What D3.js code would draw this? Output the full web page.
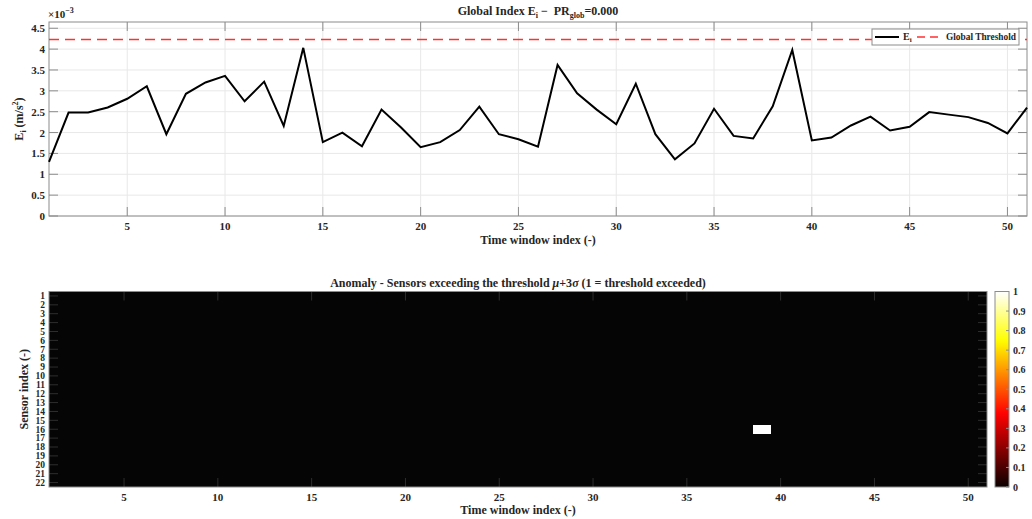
<!DOCTYPE html>
<html>
<head>
<meta charset="utf-8">
<script src="https://cdn.jsdelivr.net/npm/d3@7"></script>
<style>
  html, body { margin: 0; padding: 0; background: #fff; }
  svg { display: block; }
  text { font-family: "Liberation Serif", "Times New Roman", serif; font-weight: bold; fill: #262626; }
</style>
</head>
<body>
<svg id="chart" width="1032" height="519"></svg>
<script>
// Global energy index per time window (×10^-3 m/s^2)
const timeWindows = d3.range(1, 52);
const energyIndex = [
  1.30, 2.48, 2.48, 2.60, 2.81, 3.11, 1.96, 2.93, 3.20, 3.36,
  2.75, 3.22, 2.16, 4.03, 1.77, 2.00, 1.67, 2.55, 2.12, 1.65,
  1.77, 2.06, 2.62, 1.96, 1.84, 1.66, 3.62, 2.94, 2.55, 2.20,
  3.17, 1.96, 1.36, 1.74, 2.57, 1.92, 1.86, 2.63, 3.98, 1.81,
  1.88, 2.17, 2.38, 2.05, 2.14, 2.49, 2.43, 2.37, 2.23, 1.98,
  2.60
];
const globalThreshold = 4.23;
const yTicksTop = [0, 0.5, 1, 1.5, 2, 2.5, 3, 3.5, 4, 4.5];
const xTicks = [5, 10, 15, 20, 25, 30, 35, 40, 45, 50];

// Anomaly map: sensors above mu+3sigma (1 = exceeded)
const sensors = d3.range(1, 23);
const exceedances = [{ window: 39, sensor: 16 }];
const colorbarTicks = [0, 0.1, 0.2, 0.3, 0.4, 0.5, 0.6, 0.7, 0.8, 0.9, 1];

const svg = d3.select("#chart");
const axisGray = "#8c8c8c";
const gridGray = "#e8e8e8";

// ---------- Upper panel ----------
const upper = { left: 49, right: 1027, top: 22, bottom: 216 };
const x1 = d3.scaleLinear().domain([1, 51]).range([upper.left, upper.right]);
const y1 = d3.scaleLinear().domain([0, 4.65]).range([upper.bottom, upper.top]);

const g1 = svg.append("g");
// grid
g1.selectAll(".vgrid").data(xTicks).join("line")
  .attr("x1", d => x1(d)).attr("x2", d => x1(d))
  .attr("y1", upper.top).attr("y2", upper.bottom)
  .attr("stroke", gridGray).attr("stroke-width", 1);
g1.selectAll(".hgrid").data(yTicksTop).join("line")
  .attr("x1", upper.left).attr("x2", upper.right)
  .attr("y1", d => y1(d)).attr("y2", d => y1(d))
  .attr("stroke", gridGray).attr("stroke-width", 1);

// axes box and inward ticks
g1.append("rect").attr("x", upper.left).attr("y", upper.top)
  .attr("width", upper.right - upper.left).attr("height", upper.bottom - upper.top)
  .attr("fill", "none").attr("stroke", axisGray).attr("stroke-width", 1);
const tl = 9;
g1.selectAll(".xtb").data(xTicks).join("line")
  .attr("x1", d => x1(d)).attr("x2", d => x1(d))
  .attr("y1", upper.bottom).attr("y2", upper.bottom - tl).attr("stroke", axisGray);
g1.selectAll(".xtt").data(xTicks).join("line")
  .attr("x1", d => x1(d)).attr("x2", d => x1(d))
  .attr("y1", upper.top).attr("y2", upper.top + tl).attr("stroke", axisGray);
g1.selectAll(".ytl").data(yTicksTop).join("line")
  .attr("x1", upper.left).attr("x2", upper.left + tl)
  .attr("y1", d => y1(d)).attr("y2", d => y1(d)).attr("stroke", axisGray);
g1.selectAll(".ytr").data(yTicksTop).join("line")
  .attr("x1", upper.right).attr("x2", upper.right - tl)
  .attr("y1", d => y1(d)).attr("y2", d => y1(d)).attr("stroke", axisGray);

// tick labels
g1.selectAll(".xl").data(xTicks).join("text")
  .attr("x", d => x1(d)).attr("y", 230)
  .attr("text-anchor", "middle").attr("font-size", 11).text(d => d);
g1.selectAll(".yl").data(yTicksTop).join("text")
  .attr("x", 45).attr("y", d => y1(d) + 4)
  .attr("text-anchor", "end").attr("font-size", 11).text(d => d);

// exponent label
const expo = g1.append("text").attr("x", 48).attr("y", 18).attr("font-size", 11).attr("font-weight", "normal");
expo.append("tspan").text("×10");
expo.append("tspan").attr("dy", -5).attr("font-size", 8).text("−3");

// threshold + series
g1.append("line")
  .attr("x1", upper.left).attr("x2", upper.right)
  .attr("y1", y1(globalThreshold)).attr("y2", y1(globalThreshold))
  .attr("stroke", "#ff3030").attr("stroke-width", 1.6).attr("stroke-dasharray", "10,6");
g1.append("path")
  .datum(timeWindows.map((t, i) => [t, energyIndex[i]]))
  .attr("d", d3.line().x(d => x1(d[0])).y(d => y1(d[1])))
  .attr("fill", "none").attr("stroke", "#000").attr("stroke-width", 2)
  .attr("stroke-linejoin", "miter");

// title
const t1 = g1.append("text").attr("x", (upper.left + upper.right) / 2).attr("y", 15)
  .attr("text-anchor", "middle").attr("font-size", 12);
t1.append("tspan").text("Global Index E");
t1.append("tspan").attr("font-size", 8).attr("dy", 3).text("i");
t1.append("tspan").attr("dy", -3).text(" −\u00a0\u00a0PR");
t1.append("tspan").attr("font-size", 8).attr("dy", 3).text("glob");
t1.append("tspan").attr("dy", -3).text("=0.000");

// axis labels
g1.append("text").attr("x", (upper.left + upper.right) / 2).attr("y", 244)
  .attr("text-anchor", "middle").attr("font-size", 12).text("Time window index (-)");
const yl1 = g1.append("text").attr("transform", `translate(23,${(upper.top + upper.bottom) / 2}) rotate(-90)`)
  .attr("text-anchor", "middle").attr("font-size", 12);
yl1.append("tspan").text("E");
yl1.append("tspan").attr("font-size", 8).attr("dy", 3).text("i");
yl1.append("tspan").attr("dy", -3).text(" (m/s");
yl1.append("tspan").attr("font-size", 8).attr("dy", -5).text("2");
yl1.append("tspan").attr("dy", 5).text(")");

// legend
const lg = g1.append("g");
lg.append("rect").attr("x", 872).attr("y", 29).attr("width", 147).attr("height", 16)
  .attr("fill", "#fff").attr("stroke", axisGray).attr("stroke-width", 1);
lg.append("line").attr("x1", 875).attr("x2", 899).attr("y1", 37).attr("y2", 37)
  .attr("stroke", "#000").attr("stroke-width", 2);
const le = lg.append("text").attr("x", 903).attr("y", 40).attr("font-size", 10);
le.append("tspan").text("E");
le.append("tspan").attr("font-size", 7).attr("dy", 2).text("i");
lg.append("line").attr("x1", 917).attr("x2", 941).attr("y1", 37).attr("y2", 37)
  .attr("stroke", "#ff3030").attr("stroke-width", 1.6).attr("stroke-dasharray", "8,5");
lg.append("text").attr("x", 946).attr("y", 40).attr("font-size", 9.5)
  .attr("textLength", 70).attr("lengthAdjust", "spacingAndGlyphs").text("Global Threshold");

// ---------- Lower panel ----------
const lower = { left: 49, right: 987, top: 291.5, bottom: 487 };
const x2 = d3.scaleLinear().domain([1, 51]).range([lower.left, lower.right]);
const y2 = d3.scaleLinear().domain([0.5, 22.5]).range([lower.top, lower.bottom]);

// MATLAB-style "hot" colormap
const hot = d3.scaleLinear().domain([0, 0.375, 0.75, 1])
  .range(["#0b0000", "#ff0000", "#ffff00", "#ffffff"]).clamp(true);

const exceeded = new Set(exceedances.map(e => `${e.window}-${e.sensor}`));
const cells = [];
sensors.forEach(s => timeWindows.forEach(t => {
  cells.push({ t, s, v: exceeded.has(`${t}-${s}`) ? 1 : 0 });
}));

const defs = svg.append("defs");
defs.append("clipPath").attr("id", "heatClip")
  .append("rect").attr("x", lower.left).attr("y", lower.top)
  .attr("width", lower.right - lower.left).attr("height", lower.bottom - lower.top);

const g2 = svg.append("g");
g2.append("g").attr("clip-path", "url(#heatClip)")
  .selectAll("rect").data(cells).join("rect")
  .attr("x", d => x2(d.t - 0.5)).attr("y", d => y2(d.s - 0.5))
  .attr("width", x2(1.5) - x2(0.5) + 0.4).attr("height", y2(1.5) - y2(0.5) + 0.4)
  .attr("fill", d => d.v === 1 ? hot(d.v) : "#050505")
  .attr("shape-rendering", "crispEdges");

const tickGray = "#2e2e2e";
g2.selectAll(".bxt").data(xTicks).join("line")
  .attr("x1", d => x2(d)).attr("x2", d => x2(d))
  .attr("y1", lower.bottom).attr("y2", lower.bottom - 9).attr("stroke", tickGray);
g2.selectAll(".bxtt").data(xTicks).join("line")
  .attr("x1", d => x2(d)).attr("x2", d => x2(d))
  .attr("y1", lower.top).attr("y2", lower.top + 9).attr("stroke", tickGray);
g2.selectAll(".byt").data(sensors).join("line")
  .attr("x1", lower.left).attr("x2", lower.left + 9)
  .attr("y1", d => y2(d)).attr("y2", d => y2(d)).attr("stroke", tickGray);
g2.selectAll(".bytr").data(sensors).join("line")
  .attr("x1", lower.right).attr("x2", lower.right - 9)
  .attr("y1", d => y2(d)).attr("y2", d => y2(d)).attr("stroke", tickGray);
g2.append("rect").attr("x", lower.left).attr("y", lower.top)
  .attr("width", lower.right - lower.left).attr("height", lower.bottom - lower.top)
  .attr("fill", "none").attr("stroke", axisGray).attr("stroke-width", 1);

g2.selectAll(".bxl").data(xTicks).join("text")
  .attr("x", d => x2(d)).attr("y", 501)
  .attr("text-anchor", "middle").attr("font-size", 11).text(d => d);
g2.selectAll(".byl").data(sensors).join("text")
  .attr("x", 45).attr("y", d => y2(d) + 3.3)
  .attr("text-anchor", "end").attr("font-size", 9.5).text(d => d);

const t2 = g2.append("text").attr("x", (lower.left + lower.right) / 2).attr("y", 287)
  .attr("text-anchor", "middle").attr("font-size", 12);
t2.append("tspan").text("Anomaly - Sensors exceeding the threshold\u00a0");
t2.append("tspan").attr("font-style", "italic").text("μ");
t2.append("tspan").text("+3");
t2.append("tspan").attr("font-style", "italic").text("σ");
t2.append("tspan").text(" (1 = threshold exceeded)");

g2.append("text").attr("x", (lower.left + lower.right) / 2).attr("y", 514)
  .attr("text-anchor", "middle").attr("font-size", 12).text("Time window index (-)");
g2.append("text").attr("transform", `translate(28,${(lower.top + lower.bottom) / 2}) rotate(-90)`)
  .attr("text-anchor", "middle").attr("font-size", 12).text("Sensor index (-)");

// colorbar
const cb = { left: 995, right: 1009, top: 291.5, bottom: 487 };
const yc = d3.scaleLinear().domain([0, 1]).range([cb.bottom, cb.top]);
const grad = defs.append("linearGradient").attr("id", "hotGrad")
  .attr("x1", 0).attr("x2", 0).attr("y1", 1).attr("y2", 0);
d3.range(0, 1.0001, 0.02).forEach(v => {
  grad.append("stop").attr("offset", v).attr("stop-color", hot(v));
});
g2.append("rect").attr("x", cb.left).attr("y", cb.top)
  .attr("width", cb.right - cb.left).attr("height", cb.bottom - cb.top)
  .attr("fill", "url(#hotGrad)").attr("stroke", axisGray).attr("stroke-width", 1);
g2.selectAll(".cbt").data(colorbarTicks).join("line")
  .attr("x1", cb.right).attr("x2", cb.right - 3)
  .attr("y1", d => yc(d)).attr("y2", d => yc(d)).attr("stroke", axisGray);
g2.selectAll(".cbl").data(colorbarTicks).join("text")
  .attr("x", 1013).attr("y", d => yc(d) + 3.5)
  .attr("font-size", 10).text(d => d);
</script>
</body>
</html>
